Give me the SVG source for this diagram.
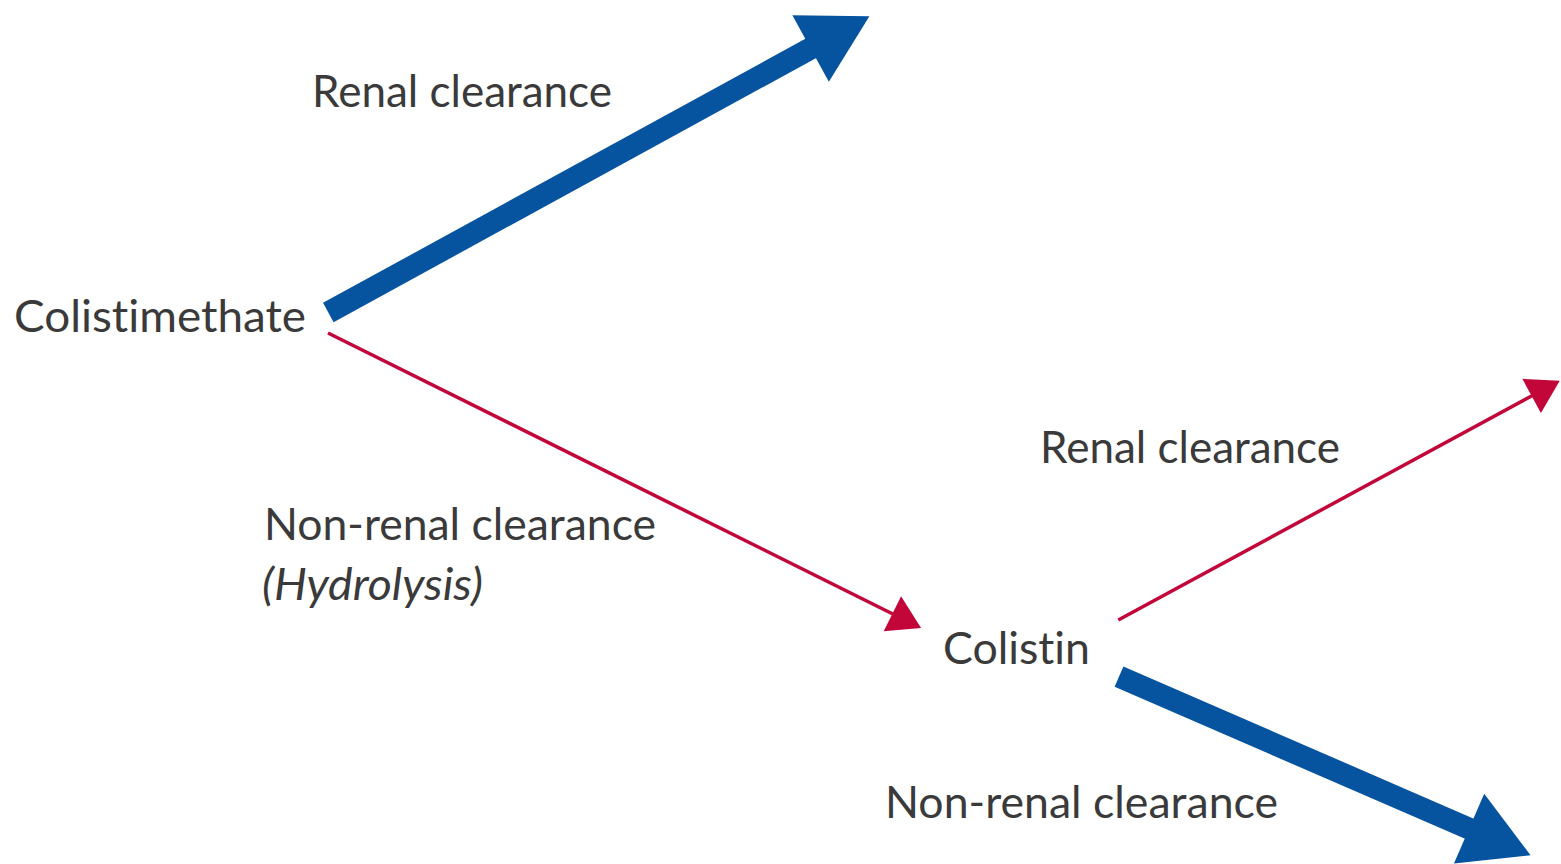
<svg xmlns="http://www.w3.org/2000/svg" width="1561" height="864" viewBox="0 0 1561 864">
  <defs>
    <style>
      .lbl { font-family: Lato, "Liberation Sans", sans-serif; font-size: 45px; fill: #3a3a3a; font-variant-ligatures: none; }
      .it { font-style: italic; }
      .blue { stroke: #0654A0; stroke-width: 22; fill: none; }
      .red { stroke: #C2063A; stroke-width: 3.5; fill: none; }
    </style>
    <marker id="headBlue" markerUnits="userSpaceOnUse" refX="0" refY="0" markerWidth="70" markerHeight="80" orient="auto" overflow="visible">
      <path d="M-1,-38 L66,0 L-1,38 Z" fill="#0654A0"/>
    </marker>
    <marker id="headRed" markerUnits="userSpaceOnUse" refX="0" refY="0" markerWidth="32" markerHeight="40" orient="auto" overflow="visible">
      <path d="M-1,-19.5 L31,0 L-1,19.5 Z" fill="#C2063A"/>
    </marker>
  </defs>
  <rect width="1561" height="864" fill="#ffffff"/>

  <g id="connectors">
    <line class="blue" x1="328.3" y1="312.5" x2="811.5" y2="48" marker-end="url(#headBlue)"/>
    <line class="red" x1="328" y1="333" x2="893.3" y2="614.2" marker-end="url(#headRed)"/>
    <line class="red" x1="1118.3" y1="620" x2="1532.5" y2="395.5" marker-end="url(#headRed)"/>
    <line class="blue" x1="1119" y1="676.7" x2="1470" y2="829" marker-end="url(#headBlue)"/>
  </g>

  <g id="node-colistimethate">
    <text class="lbl" x="14" y="332" textLength="292" lengthAdjust="spacingAndGlyphs">Colistimethate</text>
  </g>
  <g id="node-colistin">
    <text class="lbl" x="943" y="664" textLength="147" lengthAdjust="spacingAndGlyphs">Colistin</text>
  </g>
  <g id="label-renal-1">
    <text class="lbl" x="312" y="107" textLength="300" lengthAdjust="spacingAndGlyphs">Renal clearance</text>
  </g>
  <g id="label-nonrenal-1">
    <text class="lbl" x="264" y="540" textLength="392" lengthAdjust="spacingAndGlyphs">Non-renal clearance</text>
    <text class="lbl it" x="262" y="600" textLength="221" lengthAdjust="spacingAndGlyphs">(Hydrolysis)</text>
  </g>
  <g id="label-renal-2">
    <text class="lbl" x="1040" y="463" textLength="300" lengthAdjust="spacingAndGlyphs">Renal clearance</text>
  </g>
  <g id="label-nonrenal-2">
    <text class="lbl" x="885" y="818" textLength="393" lengthAdjust="spacingAndGlyphs">Non-renal clearance</text>
  </g>
</svg>
